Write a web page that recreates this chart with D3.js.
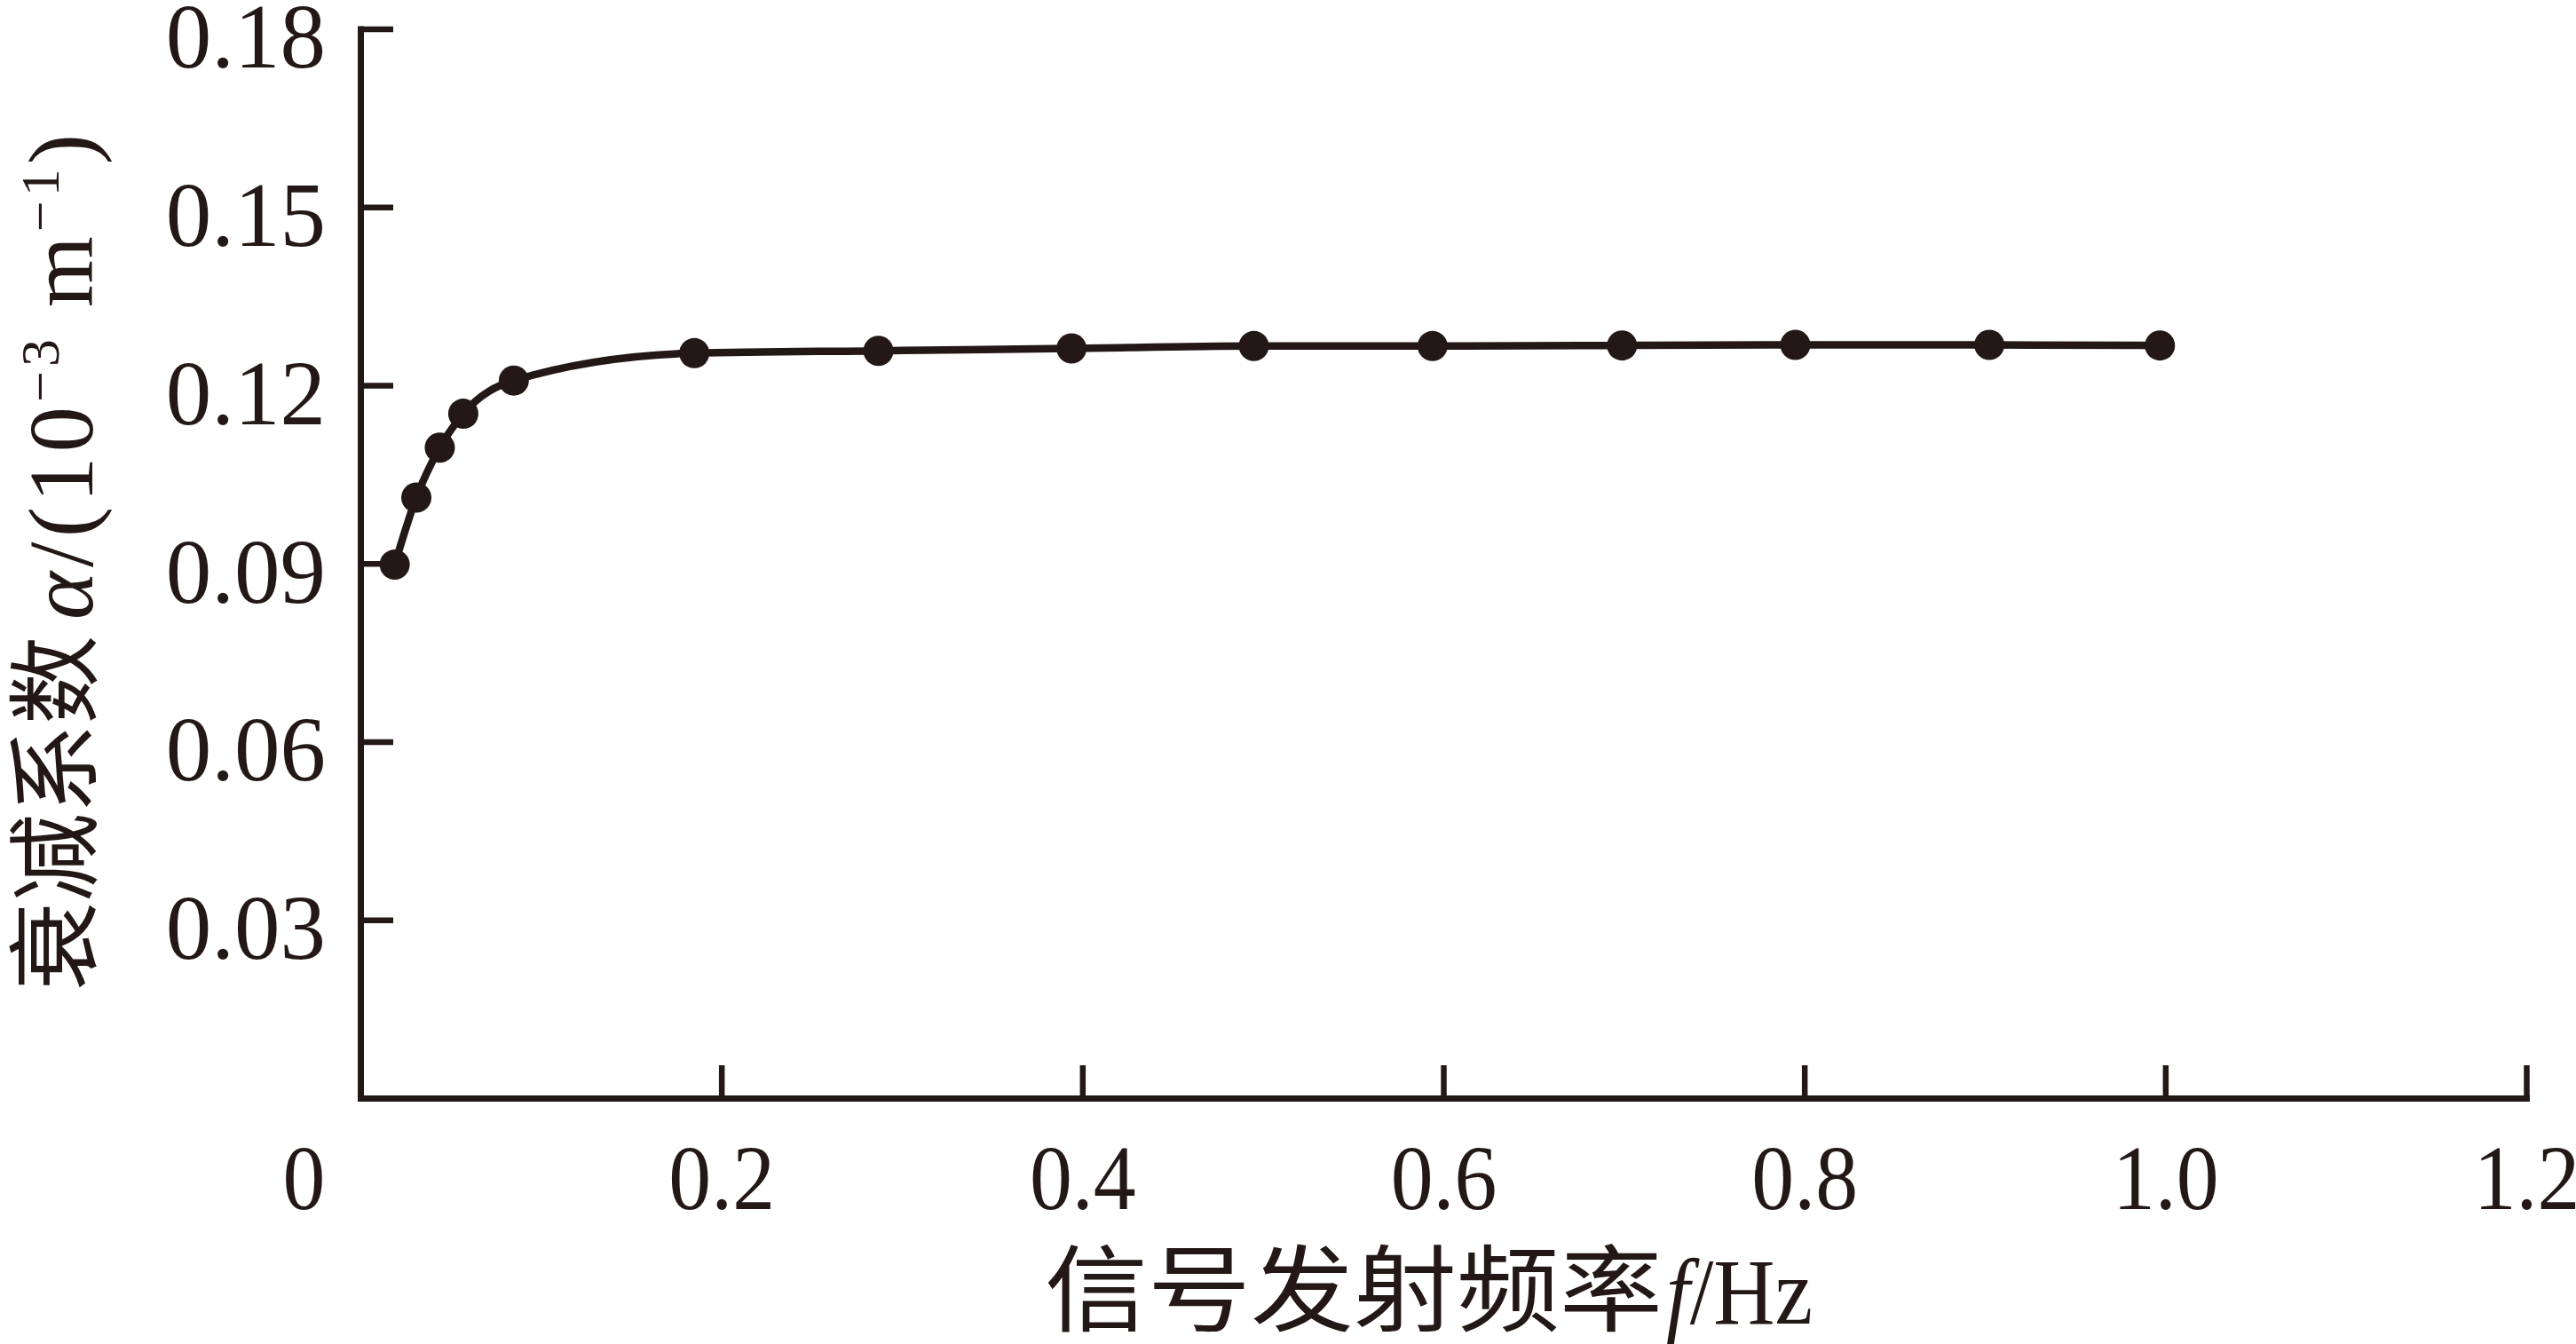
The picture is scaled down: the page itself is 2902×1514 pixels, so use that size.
<!DOCTYPE html>
<html>
<head>
<meta charset="utf-8">
<script src="https://cdn.jsdelivr.net/npm/d3@7"></script>
<style>
  html, body { margin: 0; padding: 0; background: #ffffff; }
  svg { display: block; }
</style>
</head>
<body>
<svg id="chart" width="2902" height="1514"></svg>
<script>
// ---- data ----
const freq  = [0.019, 0.031, 0.044, 0.057, 0.085, 0.185, 0.287, 0.394, 0.495, 0.594, 0.699, 0.795, 0.9025, 0.997];
const alpha = [0.0898, 0.1011, 0.1095, 0.1152, 0.1208, 0.1254, 0.1258, 0.1262, 0.1266, 0.1266, 0.1267, 0.1268, 0.1268, 0.1267];
const xTicks = [0, 0.2, 0.4, 0.6, 0.8, 1.0, 1.2];
const xTickLabels = ["0", "0.2", "0.4", "0.6", "0.8", "1.0", "1.2"];
const yTicks = [0.03, 0.06, 0.09, 0.12, 0.15, 0.18];
const yTickLabels = ["0.03", "0.06", "0.09", "0.12", "0.15", "0.18"];
const xTitleCJK = "信号发射频率";
const yTitleCJK = "衰减系数";

const ink = "#231815";
const serif = "'Liberation Serif', 'Times New Roman', serif";
const cjk = "'Noto Sans CJK SC', 'Noto Sans CJK JP', sans-serif";

const svg = d3.select("#chart");
const x = d3.scaleLinear().domain([0, 1.2]).range([406, 2846]);
const y = d3.scaleLinear().domain([0, 0.18]).range([1237, 32.5]);

// ---- axes ----
const gx = svg.append("g").attr("transform", `translate(0,${y(0)})`)
  .call(d3.axisBottom(x).tickValues(xTicks).tickSizeInner(-37).tickSizeOuter(0)
        .tickFormat((d, i) => xTickLabels[i]));
const gy = svg.append("g").attr("transform", `translate(${x(0)},0)`)
  .call(d3.axisLeft(y).tickValues(yTicks).tickSizeInner(-37).tickSizeOuter(0).tickPadding(39)
        .tickFormat((d, i) => yTickLabels[i]));

[gx, gy].forEach(g => {
  g.attr("font-family", null).attr("font-size", null);
  g.select(".domain").attr("stroke", ink).attr("stroke-width", 7).attr("stroke-linecap", "square");
  g.selectAll(".tick line").attr("stroke", ink).attr("stroke-width", 6.5);
  g.selectAll(".tick text").attr("fill", ink)
    .style("font-family", serif).style("font-size", "103px");
});
gx.selectAll(".tick text").attr("y", 125).attr("dy", null)
  .attr("dx", (d) => d === 0 ? -64 : 0)
  .each(function () {
    const n = this.getComputedTextLength();
    d3.select(this).attr("textLength", n * 0.93).attr("lengthAdjust", "spacingAndGlyphs");
  });
gy.selectAll(".tick text").attr("dy", "0.42em");

// ---- curve & markers ----
const pts = freq.map((f, i) => [f, alpha[i]]);
const line = d3.line().x(d => x(d[0])).y(d => y(d[1])).curve(d3.curveMonotoneX);
svg.append("path").datum(pts).attr("d", line)
  .attr("fill", "none").attr("stroke", ink).attr("stroke-width", 8.5)
  .attr("stroke-linejoin", "round");
svg.append("g").selectAll("circle").data(pts).join("circle")
  .attr("cx", d => x(d[0])).attr("cy", d => y(d[1])).attr("r", 17).attr("fill", ink);

// ---- x title ----
svg.append("text").attr("x", 1177).attr("y", 1491)
  .attr("textLength", 696).attr("lengthAdjust", "spacingAndGlyphs")
  .style("font-family", cjk).style("font-size", "106px").attr("fill", ink)
  .text(xTitleCJK);
const xt2 = svg.append("text").attr("x", 1877).attr("y", 1491)
  .attr("textLength", 165).attr("lengthAdjust", "spacingAndGlyphs")
  .style("font-family", serif).style("font-size", "106px").attr("fill", ink);
xt2.append("tspan").style("font-style", "italic").text("f");
xt2.append("tspan").text("/Hz");

// ---- y title (rotated) ----
const gt = svg.append("g").attr("transform", "rotate(-90)");
gt.append("text").attr("x", -1116).attr("y", 100)
  .attr("textLength", 400).attr("lengthAdjust", "spacingAndGlyphs")
  .style("font-family", cjk).style("font-size", "106px").attr("fill", ink)
  .text(yTitleCJK);
const yt2 = gt.append("text").attr("x", -698).attr("y", 104)
  .style("font-family", serif).style("font-size", "103px").attr("fill", ink)
  .style("letter-spacing", "5px");
yt2.append("tspan").style("font-style", "italic").text("α");
yt2.append("tspan").text("/(10");
yt2.append("tspan").attr("dy", -38).style("font-size", "62px").text("−3");
yt2.append("tspan").attr("dy", 38).text(" m");
yt2.append("tspan").attr("dy", -38).style("font-size", "62px").text("−1");
yt2.append("tspan").attr("dy", 38).text(")");
</script>
</body>
</html>
